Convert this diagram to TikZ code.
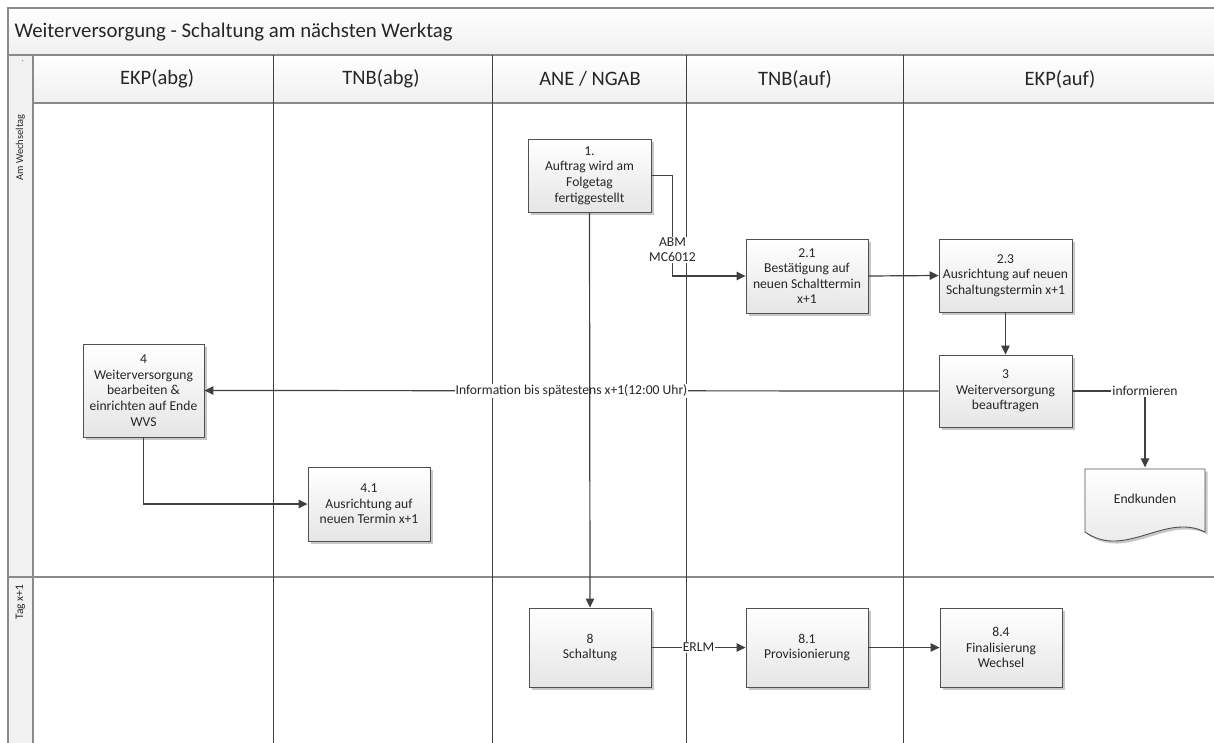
\documentclass[tikz,border=0pt]{standalone}
\usepackage{fontspec}
\setmainfont{Carlito}
\usetikzlibrary{arrows.meta,shadows,calc}
\definecolor{lanegray}{HTML}{8A8A8A}
\definecolor{linedark}{HTML}{404040}
\definecolor{boxline}{HTML}{505050}
\definecolor{txt}{HTML}{262626}
\begin{document}
\begin{tikzpicture}[x=1pt,y=-1pt,
  proc/.style={draw=boxline, line width=0.9pt, top color=white, bottom color=black!10,
    drop shadow={shadow xshift=2.5pt,shadow yshift=-2.5pt,opacity=0.22,fill=black},
    align=center, inner sep=2pt, font=\fontsize{13.6}{15.6}\selectfont, text=txt},
  conn/.style={draw=linedark, line width=1.2pt, -{Triangle[length=9pt,width=8.5pt]}},
  lbl/.style={fill=white, inner sep=1pt, font=\fontsize{13.6}{15.6}\selectfont, align=center, text=txt},
  frame/.style={draw=lanegray, line width=1.6pt},
  coll/.style={draw=linedark, line width=0.9pt},
  hdr/.style={font=\fontsize{20.5}{21}\selectfont, text=txt},
  lanelbl/.style={rotate=90, anchor=east, font=\fontsize{10.5}{11}\selectfont, text=txt},
]
\useasboundingbox (0,0) rectangle (1214,742);
\clip (0,0) rectangle (1214,742);
\fill[white] (0,0) rectangle (1214,742);

% title bar
\shade[top color=white, bottom color=black!6] (8,8) rectangle (1230,55);
% header row
\shade[top color=white, bottom color=black!6] (33,55) rectangle (1230,103);
% lane label column
\fill[black!5] (8,55) rectangle (33,750);

% frame lines
\draw[frame] (1230,8) -- (8,8) -- (8,750);
\draw[frame] (8,55) -- (1230,55);
\draw[frame] (33,55) -- (33,750);
\draw[frame] (33,103) -- (1230,103);
\draw[frame] (8,577) -- (1230,577);

% column separators
\foreach \cx in {273,492,903} {
  \draw[coll] (\cx,55) -- (\cx,750);
}
\draw[coll, line width=0.7pt] (686,55) -- (686,750);

% texts of the frame
\node[anchor=west, font=\fontsize{20.8}{21}\selectfont, text=txt] (title) at (11,32) {Weiterversorgung - Schaltung am nächsten Werktag};
\node[hdr] (h1) at (157,79) {EKP(abg)};
\node[hdr] (h2) at (381,79) {TNB(abg)};
\node[hdr] (h3) at (590,79) {ANE / NGAB};
\node[hdr] (h4) at (795,79) {TNB(auf)};
\node[hdr] (h5) at (1060,79) {EKP(auf)};
\node[font=\fontsize{8}{8}\selectfont, text=txt, inner sep=0pt, anchor=base] (dot) at (23,61) {.};
\node[lanelbl] (l1) at (20.5,111) {Am Wechseltag};
\node[lanelbl, font=\fontsize{11.5}{12}\selectfont] (l2) at (20.5,581) {Tag x+1};

% process boxes
\node[proc, minimum width=123, minimum height=73] (n1) at (589.5,175.5) {1.\\Auftrag wird am\\Folgetag\\fertiggestellt};
\node[proc, minimum width=122, minimum height=74] (n21) at (807,276) {2.1\\Bestätigung auf\\neuen Schalttermin\\x+1};
\node[proc, minimum width=133, minimum height=73] (n23) at (1005.5,275.5) {2.3\\Ausrichtung auf neuen\\Schaltungstermin x+1};
\node[proc, minimum width=133, minimum height=72] (n3) at (1005.5,391) {3\\Weiterversorgung\\beauftragen};
\node[proc, minimum width=121, minimum height=93] (n4) at (143.5,390.5) {4\\Weiterversorgung\\bearbeiten \&\\einrichten auf Ende\\WVS};
\node[proc, minimum width=122, minimum height=74] (n41) at (369,504) {4.1\\Ausrichtung auf\\neuen Termin x+1};
\node[proc, minimum width=122, minimum height=79] (n8) at (590,647.5) {8\\Schaltung};
\node[proc, minimum width=122, minimum height=79] (n81) at (807,647.5) {8.1\\Provisionierung};
\node[proc, minimum width=122, minimum height=79] (n84) at (1001,647.5) {8.4\\Finalisierung\\Wechsel};

% document shape
\path[draw=boxline, line width=0.9pt, top color=white, bottom color=black!10,
  drop shadow={shadow xshift=2.5pt,shadow yshift=-2.5pt,opacity=0.22,fill=black}]
  (1085,469) -- (1205,469) -- (1205,532) .. controls (1165,512) and (1125,560) .. (1085,532) -- cycle;
\node[minimum width=120, minimum height=63, inner sep=0pt, font=\fontsize{13.6}{15.6}\selectfont, text=txt] (doc) at (1145,499) {Endkunden};

% connectors
\draw[conn] (n1.east) -- ++(21,0) |- node[lbl, pos=0.37] {ABM\\MC6012} (n21.west);
\draw[conn] (n21.east) -- (n23.west);
\draw[conn] (n23.south) -- (n3.north);
\draw[conn] (n3.west) -- node[lbl, pos=0.5] {Information bis spätestens x+1(12:00 Uhr)} (n4.east);
\draw[conn] (n3.east) -| node[lbl, pos=0.5] {informieren} (doc.north);
\draw[conn] (n4.south) |- (n41.west);
\draw[conn] (n1.south) -- (n8.north);
\draw[conn] (n8.east) -- node[lbl, pos=0.5] {ERLM} (n81.west);
\draw[conn] (n81.east) -- (n84.west);
\end{tikzpicture}
\end{document}
